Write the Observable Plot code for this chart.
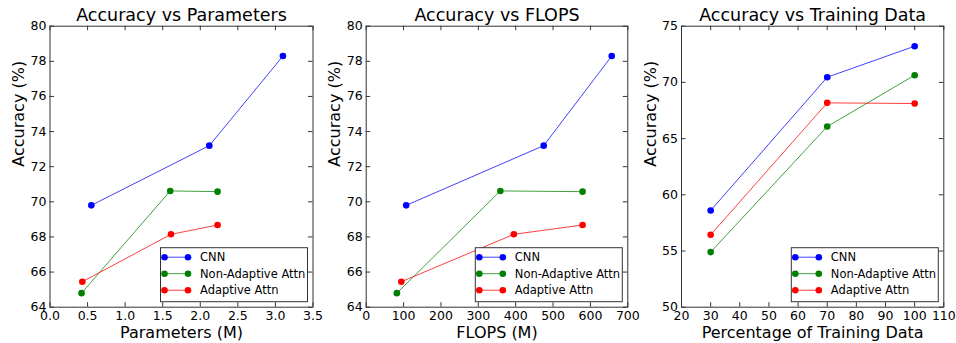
<!DOCTYPE html>
<html>
<head>
<meta charset="utf-8">
<script src="https://cdn.jsdelivr.net/npm/d3@7"></script>
<script src="https://cdn.jsdelivr.net/npm/@observablehq/plot@0.6"></script>
<style>
  html, body { margin: 0; padding: 0; background: #fff; }
  #chart { position: relative; width: 956px; height: 343px; overflow: hidden; font-family: "DejaVu Sans", sans-serif; }
  #chart svg { position: absolute; top: 0; }
</style>
</head>
<body>
<div id="chart"></div>
<script>
// ---- data ----
const series = ["CNN", "Non-Adaptive Attn", "Adaptive Attn"];
const colors = ["#0000ff", "#008000", "#ff0000"];

// Accuracy (%) per series, shared by the Parameters and FLOPS panels
const accuracy = [
  [69.8, 73.2, 78.3],
  [64.8, 70.62, 70.58],
  [65.45, 68.15, 68.68]
];
// Parameters (M)
const parameters = [
  [0.55, 2.12, 3.10],
  [0.42, 1.60, 2.23],
  [0.43, 1.61, 2.23]
];
// FLOPS (M)
const flops = [
  [107, 475, 657],
  [82, 359, 579],
  [94, 395, 579]
];
// Percentage of training data
const trainPct = [30, 70, 100];
const trainAcc = [
  [58.6, 70.46, 73.22],
  [54.9, 66.07, 70.64],
  [56.44, 68.18, 68.12]
];

// tick labels
const paramTicks = [0, 0.5, 1, 1.5, 2, 2.5, 3, 3.5];
const flopsTicks = [0, 100, 200, 300, 400, 500, 600, 700];
const pctTicks = [20, 30, 40, 50, 60, 70, 80, 90, 100, 110];
const accTicks = [64, 66, 68, 70, 72, 74, 76, 78, 80];
const trainAccTicks = [50, 55, 60, 65, 70, 75];

const titles = ["Accuracy vs Parameters", "Accuracy vs FLOPS", "Accuracy vs Training Data"];
const xLabels = ["Parameters (M)", "FLOPS (M)", "Percentage of Training Data"];
const yLabel = "Accuracy (%)";

// ---- build ----
const H = 343, MT = 25.7, MB = 36.3;
const FH = H - MT - MB;
const TICK = 4.5;

function rowsFrom(xs, ys) {
  const out = [];
  series.forEach((s, i) => {
    xs[i].forEach((x, j) => out.push({series: s, x, y: ys[i][j]}));
  });
  return out;
}

function panel({left, width, ml, mr, xTicks, yTicks, xFmt, rows, title, xLabel}) {
  const FW = width - ml - mr;
  const plot = Plot.plot({
    width, height: H,
    marginLeft: ml, marginRight: mr, marginTop: MT, marginBottom: MB,
    style: {background: "transparent", overflow: "visible", fontFamily: "DejaVu Sans, sans-serif", color: "#000"},
    x: {domain: [xTicks[0], xTicks[xTicks.length - 1]]},
    y: {domain: [yTicks[0], yTicks[yTicks.length - 1]]},
    color: {domain: series, range: colors},
    marks: [
      Plot.axisX(xTicks, {anchor: "bottom", tickSize: 0, tickPadding: 4, fontSize: 12.5, label: null, tickFormat: xFmt}),
      Plot.axisY(yTicks, {anchor: "left", tickSize: 0, tickPadding: 3.5, fontSize: 12.5, label: null, tickFormat: d3.format("d")}),
      Plot.tickX(xTicks, {x: d => d, insetTop: FH - TICK, stroke: "#000", strokeWidth: 0.8}),
      Plot.tickX(xTicks, {x: d => d, insetBottom: FH - TICK, stroke: "#000", strokeWidth: 0.8}),
      Plot.tickY(yTicks, {y: d => d, insetRight: FW - TICK, stroke: "#000", strokeWidth: 0.8}),
      Plot.tickY(yTicks, {y: d => d, insetLeft: FW - TICK, stroke: "#000", strokeWidth: 0.8}),
      Plot.line(rows, {x: "x", y: "y", z: "series", stroke: "series", strokeWidth: 1, strokeOpacity: 0.75}),
      Plot.dot(rows, {x: "x", y: "y", fill: "series", r: 3.3}),
      Plot.frame({stroke: "#333", strokeWidth: 1}),
      Plot.text([title], {text: d => d, frameAnchor: "top", lineAnchor: "bottom", dy: -5, fontSize: 17.5}),
      Plot.text([xLabel], {text: d => d, frameAnchor: "bottom", lineAnchor: "bottom", dy: 30.6, fontSize: 16}),
      Plot.text([yLabel], {text: d => d, frameAnchor: "left", rotate: -90, dx: -31, fontSize: 16})
    ]
  });
  plot.style.left = left + "px";

  // legend (lower right, like matplotlib)
  const svg = d3.select(plot);
  const lw = 147, lh = 54, inset = 5.5;
  const lx = width - mr - inset - lw, ly = H - MB - inset - lh;
  const g = svg.append("g").attr("transform", `translate(${lx},${ly})`)
    .attr("font-family", "DejaVu Sans, sans-serif").attr("text-anchor", "start");
  g.append("rect").attr("x", 0.5).attr("y", 0.5).attr("width", lw).attr("height", lh)
    .attr("fill", "#fff").attr("stroke", "#333").attr("stroke-width", 1);
  series.forEach((s, i) => {
    const cy = 10 + i * 16.5;
    g.append("line").attr("x1", 4.5).attr("x2", 28).attr("y1", cy).attr("y2", cy)
      .attr("stroke", colors[i]).attr("stroke-opacity", 0.75).attr("stroke-width", 1);
    g.append("circle").attr("cx", 4.5).attr("cy", cy).attr("r", 3.3).attr("fill", colors[i]);
    g.append("circle").attr("cx", 28).attr("cy", cy).attr("r", 3.3).attr("fill", colors[i]);
    g.append("text").attr("x", 40).attr("y", cy).attr("dy", "0.35em")
      .attr("text-anchor", "start").attr("font-size", 11.5).attr("fill", "#000").text(s);
  });
  return plot;
}

const chart = document.getElementById("chart");
chart.append(panel({
  left: 0, width: 318, ml: 49.5, mr: 5.5,
  xTicks: paramTicks, yTicks: accTicks, xFmt: d3.format(".1f"),
  rows: rowsFrom(parameters, accuracy), title: titles[0], xLabel: xLabels[0]
}));
chart.append(panel({
  left: 318, width: 318, ml: 47.7, mr: 8.7,
  xTicks: flopsTicks, yTicks: accTicks, xFmt: d3.format("d"),
  rows: rowsFrom(flops, accuracy), title: titles[1], xLabel: xLabels[1]
}));
chart.append(panel({
  left: 636, width: 320, ml: 45, mr: 12.7,
  xTicks: pctTicks, yTicks: trainAccTicks, xFmt: d3.format("d"),
  rows: rowsFrom(series.map(() => trainPct), trainAcc), title: titles[2], xLabel: xLabels[2]
}));
</script>
</body>
</html>
